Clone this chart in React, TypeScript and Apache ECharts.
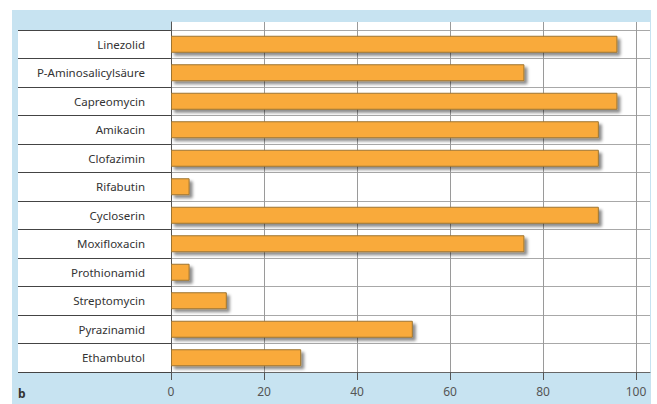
import React, { useEffect, useRef } from "react";
import * as echarts from "echarts";

const categories = [
  "Linezolid",
  "P-Aminosalicylsäure",
  "Capreomycin",
  "Amikacin",
  "Clofazimin",
  "Rifabutin",
  "Cycloserin",
  "Moxifloxacin",
  "Prothionamid",
  "Streptomycin",
  "Pyrazinamid",
  "Ethambutol",
];
const values = [96, 76, 96, 92, 92, 4, 92, 76, 4, 12, 52, 28];
const xTicks = [0, 20, 40, 60, 80, 100];
const xMax = 103;

export default function App() {
  const ref = useRef<HTMLDivElement>(null);
  useEffect(() => {
    if (!ref.current) return;
    const chart = echarts.init(ref.current, null, { renderer: "svg" });
    const font = "'Noto Sans', sans-serif";
    chart.setOption({
      animation: false,
      backgroundColor: "transparent",
      grid: [
        { left: 171, right: 7, top: 22, bottom: 32, show: true, backgroundColor: "#ffffff", borderWidth: 0 },
        { left: 171, right: 7, top: 30, bottom: 32 },
      ],
      graphic: [
        {
          type: "rect",
          z: -100,
          shape: { x: 18, y: 30, width: 153, height: 342 },
          style: { fill: "#ffffff" },
        },
        {
          type: "text",
          x: 18,
          y: 387,
          style: { text: "b", font: "bold 12px 'Noto Sans', sans-serif", fill: "#333" },
        },
      ],
      xAxis: [
        {
          gridIndex: 0,
          type: "value",
          min: 0,
          max: xMax,
          interval: 20,
          axisLine: { show: true, lineStyle: { color: "#666", width: 1 } },
          axisTick: { show: true, length: 8, customValues: xTicks, lineStyle: { color: "#555" } },
          axisLabel: {
            color: "#555",
            fontSize: 12,
            fontFamily: font,
            margin: 13,
            customValues: xTicks,
            showMaxLabel: true,
          },
          splitLine: { show: true, lineStyle: { color: "#9a9a9a", width: 1 } },
        },
        {
          gridIndex: 1,
          type: "value",
          min: 0,
          max: xMax,
          show: false,
        },
      ],
      yAxis: [
        {
          gridIndex: 0,
          type: "value",
          axisLine: { show: true, lineStyle: { color: "#555" } },
          axisTick: { show: false },
          axisLabel: { show: false },
          splitLine: { show: false },
        },
        {
          gridIndex: 1,
          type: "category",
          inverse: true,
          data: categories,
          axisLine: { show: true, lineStyle: { color: "#555" } },
          axisTick: { show: true, length: 153, lineStyle: { color: "#444", width: 1.2 } },
          axisLabel: { color: "#333", fontSize: 11.5, fontFamily: font, margin: 26 },
          splitLine: { show: true, lineStyle: { color: "#a8a8a8", width: 1 } },
        },
      ],
      series: [
        {
          type: "bar",
          xAxisIndex: 1,
          yAxisIndex: 1,
          data: values,
          barWidth: 17,
          itemStyle: {
            color: "#F9AA3B",
            borderColor: "#9E7530",
            borderWidth: 1,
            shadowColor: "rgba(0,0,0,0.45)",
            shadowBlur: 3,
            shadowOffsetX: 3,
            shadowOffsetY: 3,
          },
        },
      ],
    });
    return () => chart.dispose();
  }, []);
  return (
    <div style={{ position: "fixed", left: 0, top: 0, width: 657, height: 404, background: "#ffffff" }}>
      <div style={{ position: "absolute", left: 12, top: 10, width: 639, height: 394, background: "#C7E3F1" }} />
      <div ref={ref} style={{ position: "absolute", left: 0, top: 0, width: 657, height: 404 }} />
    </div>
  );
}
